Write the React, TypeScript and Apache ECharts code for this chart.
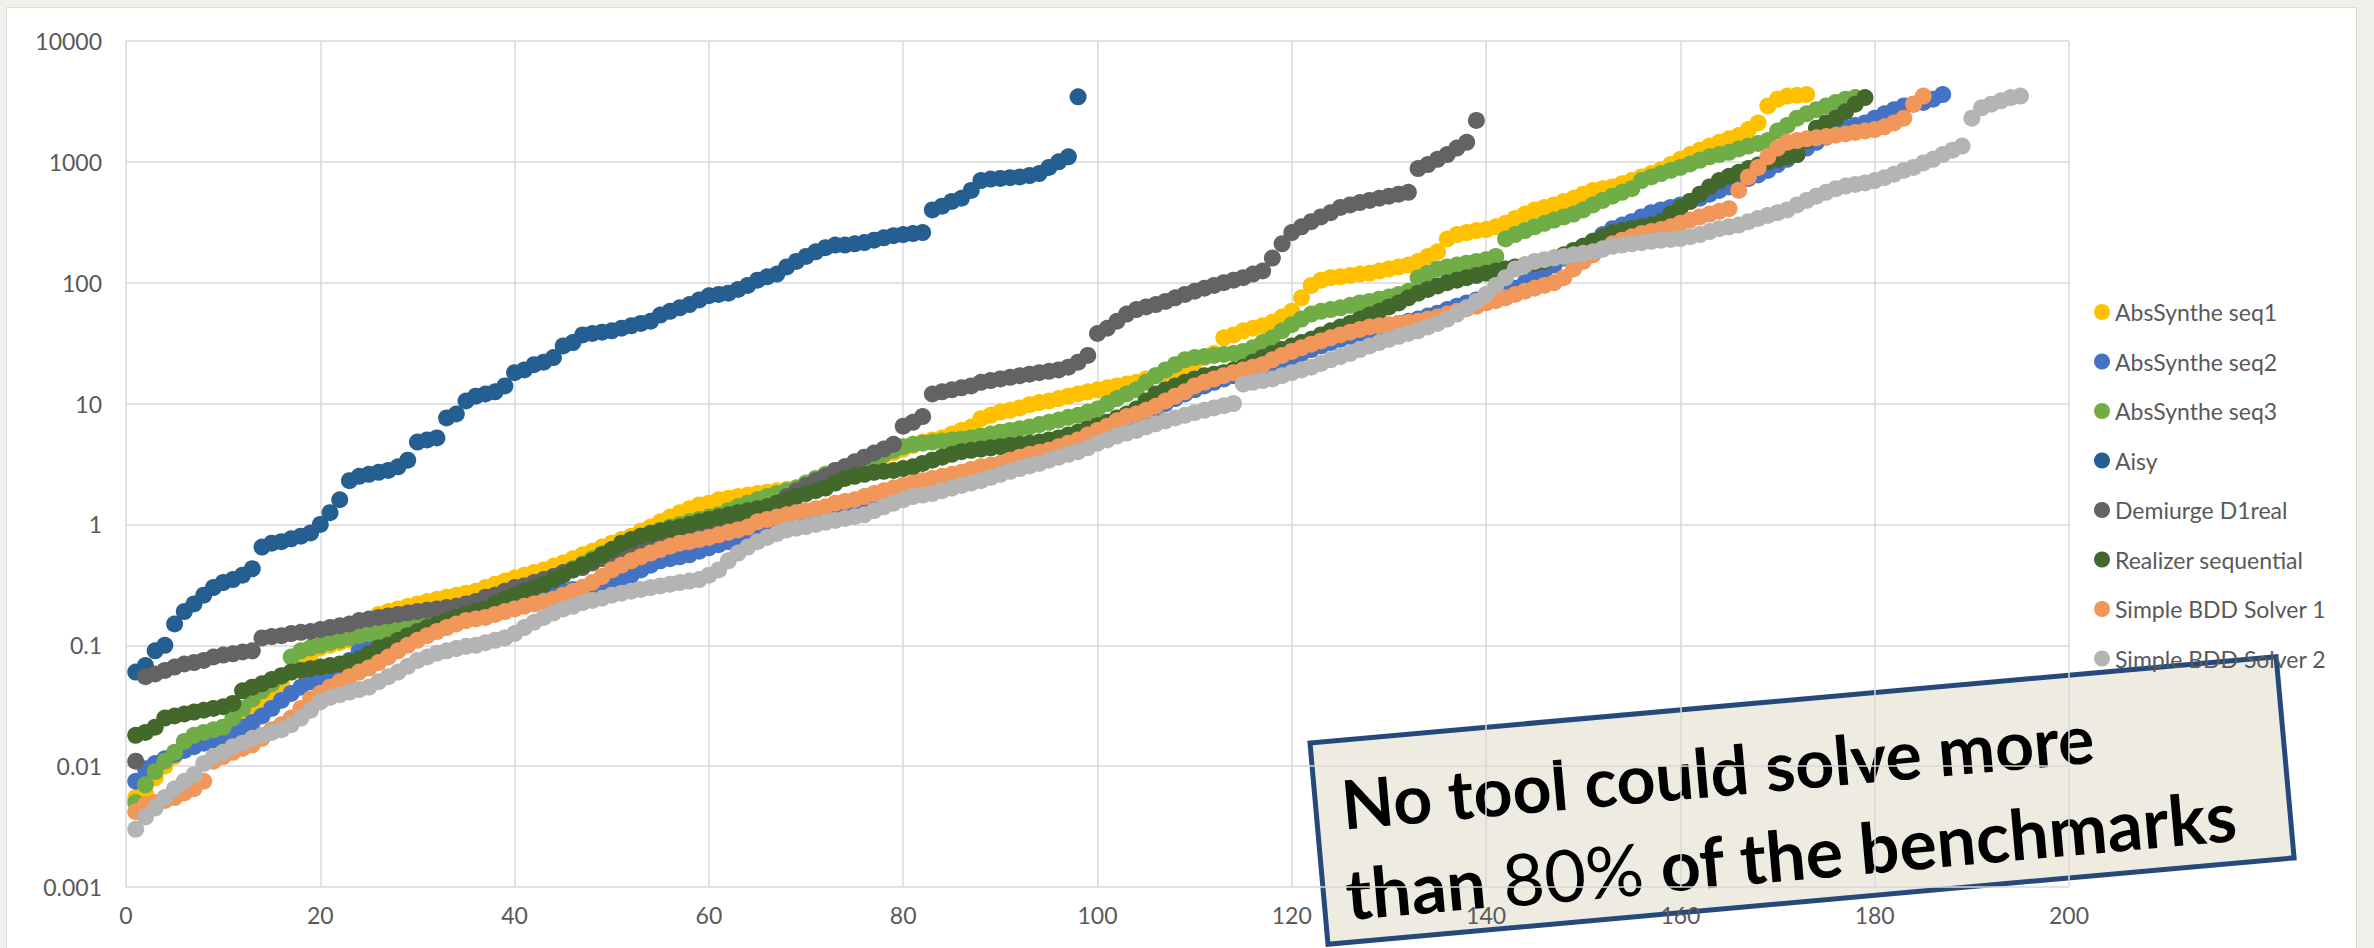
import React, { useEffect, useRef } from "react";
import * as echarts from "echarts";

const seriesNames = [
  "AbsSynthe seq1",
  "AbsSynthe seq2",
  "AbsSynthe seq3",
  "Aisy",
  "Demiurge D1real",
  "Realizer sequential",
  "Simple BDD Solver 1",
  "Simple BDD Solver 2",
];
const seriesColors = ["#FFC000", "#4472C4", "#70AD47", "#255E91", "#636363", "#43682B", "#F1975A", "#B4B4B4"];

const absSyntheSeq1 = [
  0.0055, 0.006, 0.008, 0.01, 0.012, 0.014, 0.016, 0.017, 0.019, 0.021,
  0.023, 0.026, 0.03, 0.034, 0.04, 0.048, 0.06, 0.075, 0.085, 0.095,
  0.1, 0.105, 0.11, 0.12, 0.16, 0.18, 0.19, 0.2, 0.21, 0.22,
  0.23, 0.24, 0.25, 0.26, 0.27, 0.28, 0.3, 0.32, 0.34, 0.36,
  0.38, 0.4, 0.42, 0.45, 0.48, 0.52, 0.56, 0.6, 0.65, 0.7,
  0.75, 0.8, 0.88, 0.95, 1.05, 1.15, 1.25, 1.35, 1.45, 1.5,
  1.6, 1.65, 1.7, 1.75, 1.8, 1.85, 1.9, 1.95, 2.0, 2.1,
  2.3, 2.5, 2.7, 2.9, 3.1, 3.3, 3.5, 3.7, 3.9, 4.2,
  4.5, 4.8, 5.0, 5.2, 5.6, 6.0, 6.4, 7.5, 8.0, 8.5,
  8.8, 9.2, 9.8, 10.2, 10.5, 11, 11.5, 12, 12.5, 13,
  13.5, 14, 14.5, 15, 16, 17, 18, 19, 20, 22,
  24, 26, 35, 37, 40, 42, 44, 47, 52, 58,
  75, 95, 105, 110, 112, 115, 118, 120, 125, 130,
  135, 140, 150, 165, 180, 230, 250, 260, 270, 275,
  290, 310, 340, 370, 400, 420, 440, 470, 500, 540,
  580, 600, 620, 660, 700, 750, 800, 860, 950, 1050,
  1150, 1250, 1350, 1450, 1550, 1650, 1850, 2100, 2900, 3300,
  3500, 3550, 3600,
];

const absSyntheSeq2 = [
  0.0075, 0.0095, 0.0105, 0.0115, 0.0125, 0.0135, 0.0145, 0.0155, 0.0165, 0.0175,
  0.019, 0.021, 0.023, 0.026, 0.03, 0.035, 0.04, 0.045, 0.05, 0.055,
  0.06, 0.068, 0.075, 0.09, 0.1, 0.105, 0.11, 0.12, 0.13, 0.14,
  0.15, 0.155, 0.16, 0.17, 0.18, 0.19, 0.2, 0.21, 0.22, 0.23,
  0.24, 0.25, 0.26, 0.27, 0.28, 0.29, 0.3, 0.31, 0.32, 0.34,
  0.36, 0.38, 0.42, 0.46, 0.5, 0.52, 0.54, 0.56, 0.6, 0.64,
  0.68, 0.72, 0.74, 0.76, 0.8, 0.88, 0.95, 1.0, 1.05, 1.1,
  1.2, 1.25, 1.3, 1.4, 1.5, 1.6, 1.7, 1.8, 1.9, 1.95,
  2.0, 2.1, 2.2, 2.3, 2.4, 2.5, 2.6, 2.7, 2.8, 3.0,
  3.2, 3.4, 3.6, 3.8, 4.0, 4.3, 4.6, 5.0, 5.3, 5.6,
  6.0, 6.5, 7.0, 7.6, 8.2, 9.0, 10, 11, 12, 13,
  14, 15, 16, 17, 18, 19, 20, 21, 22, 24,
  26, 28, 30, 32, 34, 36, 38, 40, 42, 44,
  46, 48, 50, 53, 56, 60, 64, 68, 72, 76,
  80, 85, 90, 100, 110, 125, 140, 160, 180, 200,
  220, 250, 280, 300, 320, 350, 380, 400, 420, 440,
  470, 500, 540, 580, 620, 680, 730, 780, 850, 950,
  1050, 1150, 1300, 1450, 1600, 1750, 1900, 2000, 2100, 2300,
  2500, 2700, 2900, 3000, 3100, 3300, 3600,
];

const absSyntheSeq3 = [
  0.005, 0.007, 0.009, 0.011, 0.013, 0.016, 0.018, 0.019, 0.02, 0.021,
  0.025, 0.03, 0.036, 0.042, 0.048, 0.055, 0.08, 0.09, 0.095, 0.1,
  0.105, 0.11, 0.115, 0.12, 0.125, 0.13, 0.135, 0.14, 0.145, 0.15,
  0.16, 0.17, 0.18, 0.19, 0.2, 0.22, 0.24, 0.26, 0.28, 0.3,
  0.31, 0.33, 0.35, 0.37, 0.4, 0.43, 0.47, 0.52, 0.57, 0.62,
  0.68, 0.74, 0.8, 0.85, 0.9, 0.95, 1.0, 1.05, 1.1, 1.15,
  1.2, 1.3, 1.4, 1.5, 1.6, 1.7, 1.8, 1.9, 2.0, 2.2,
  2.4, 2.6, 2.8, 3.0, 3.1, 3.2, 3.5, 3.8, 4.1, 4.4,
  4.6, 4.7, 4.8, 4.9, 5.0, 5.1, 5.2, 5.4, 5.6, 5.8,
  6.0, 6.2, 6.4, 6.7, 7.0, 7.3, 7.7, 8.0, 8.5, 9.0,
  10, 11, 12, 13, 15, 17, 19, 21, 23, 24,
  24.5, 25, 25.5, 26, 27, 29, 32, 35, 40, 45,
  50, 55, 58, 60, 62, 65, 68, 70, 73, 76,
  80, 85, 110, 120, 130, 135, 140, 145, 150, 155,
  165, 230, 250, 270, 290, 310, 330, 350, 370, 400,
  440, 480, 520, 560, 600, 700, 750, 800, 850, 900,
  960, 1030, 1100, 1150, 1200, 1280, 1350, 1420, 1500, 1800,
  2000, 2300, 2500, 2700, 2900, 3100, 3300, 3400,
];

const aisy = [
  0.06, 0.068, 0.09, 0.1, 0.15, 0.19, 0.22, 0.26, 0.3, 0.33,
  0.35, 0.38, 0.43, 0.65, 0.7, 0.72, 0.76, 0.8, 0.85, 1.0,
  1.25, 1.6, 2.3, 2.5, 2.6, 2.7, 2.8, 3.0, 3.4, 4.8,
  5.0, 5.2, 7.6, 8.2, 10.5, 11.5, 12, 12.5, 14, 18,
  19, 21, 22, 24, 30, 32, 37, 38, 39, 40,
  42, 44, 46, 48, 54, 58, 62, 66, 72, 78,
  80, 82, 88, 95, 105, 112, 118, 135, 150, 165,
  180, 195, 205, 205, 210, 215, 225, 235, 245, 250,
  255, 260, 400, 430, 470, 500, 580, 700, 720, 730,
  740, 750, 770, 800, 900, 1000, 1100, 3450,
];

const demiurgeD1real = [
  0.011, 0.055, 0.058, 0.062, 0.066, 0.07, 0.072, 0.075, 0.08, 0.083,
  0.085, 0.088, 0.09, 0.115, 0.118, 0.12, 0.125, 0.128, 0.13, 0.135,
  0.14, 0.145, 0.15, 0.16, 0.165, 0.17, 0.175, 0.18, 0.185, 0.19,
  0.195, 0.2, 0.205, 0.21, 0.22, 0.23, 0.25, 0.26, 0.28, 0.3,
  0.31, 0.33, 0.35, 0.37, 0.4, 0.42, 0.44, 0.48, 0.52, 0.56,
  0.62, 0.68, 0.72, 0.76, 0.8, 0.85, 0.9, 0.95, 1.0, 1.05,
  1.1, 1.15, 1.2, 1.25, 1.3, 1.4, 1.5, 1.7, 1.9, 2.1,
  2.3, 2.5, 2.8, 3.0, 3.3, 3.6, 3.9, 4.2, 4.6, 6.5,
  7.0, 7.8, 12, 12.5, 13, 13.5, 14, 15, 15.5, 16,
  16.5, 17, 17.5, 18, 18.5, 19, 20, 22, 25, 38,
  42, 48, 55, 60, 63, 66, 70, 75, 80, 85,
  90, 95, 100, 105, 110, 118, 125, 160, 210, 260,
  290, 320, 350, 380, 420, 440, 460, 480, 500, 520,
  540, 560, 880, 950, 1050, 1150, 1300, 1450, 2200,
];

const realizerSequential = [
  0.018, 0.019, 0.021, 0.025, 0.026, 0.027, 0.028, 0.029, 0.03, 0.031,
  0.033, 0.042, 0.045, 0.048, 0.052, 0.056, 0.06, 0.062, 0.064, 0.066,
  0.068, 0.07, 0.073, 0.077, 0.085, 0.095, 0.1, 0.11, 0.12, 0.13,
  0.14, 0.15, 0.16, 0.17, 0.18, 0.19, 0.2, 0.22, 0.24, 0.26,
  0.28, 0.3, 0.32, 0.35, 0.38, 0.42, 0.46, 0.5, 0.56, 0.62,
  0.7, 0.75, 0.8, 0.84, 0.88, 0.92, 0.95, 1.0, 1.05, 1.1,
  1.15, 1.2, 1.25, 1.3, 1.35, 1.4, 1.5, 1.6, 1.7, 1.8,
  1.9, 2.0, 2.2, 2.4, 2.5, 2.6, 2.7, 2.75, 2.8, 2.9,
  3.0, 3.2, 3.4, 3.6, 3.8, 4.0, 4.1, 4.2, 4.3, 4.4,
  4.5, 4.6, 4.7, 4.8, 5.0, 5.2, 5.5, 5.8, 6.2, 6.6,
  7.0, 7.6, 8.2, 9.0, 10.5, 12, 13, 14, 15, 16,
  17, 17.5, 18, 19, 20, 22, 24, 26, 28, 30,
  32, 34, 37, 40, 43, 46, 50, 54, 58, 63,
  68, 75, 82, 88, 94, 100, 105, 110, 115, 120,
  125, 130, 135, 140, 145, 150, 160, 170, 185, 200,
  220, 240, 260, 270, 280, 290, 300, 320, 370, 420,
  470, 540, 620, 700, 760, 820, 880, 940, 1000, 1050,
  1100, 1150, 1500, 1900, 2100, 2300, 2600, 3000, 3400,
];

const simpleBddSolver1 = [
  0.0042, 0.0048, 0.005, 0.0052, 0.0055, 0.006, 0.0065, 0.0075, 0.011, 0.012,
  0.013, 0.014, 0.015, 0.017, 0.02, 0.022, 0.025, 0.03, 0.036, 0.04,
  0.045, 0.05, 0.055, 0.06, 0.065, 0.072, 0.08, 0.09, 0.1, 0.11,
  0.12, 0.13, 0.14, 0.15, 0.16, 0.165, 0.17, 0.18, 0.19, 0.2,
  0.21, 0.22, 0.23, 0.24, 0.26, 0.28, 0.3, 0.33, 0.37, 0.42,
  0.46, 0.5, 0.54, 0.58, 0.62, 0.66, 0.7, 0.72, 0.75, 0.78,
  0.82, 0.86, 0.9, 0.95, 1.05, 1.1, 1.15, 1.2, 1.25, 1.3,
  1.35, 1.4, 1.5, 1.55, 1.6, 1.7, 1.8, 1.9, 2.0, 2.1,
  2.2, 2.3, 2.4, 2.5, 2.6, 2.7, 2.85, 3.0, 3.1, 3.2,
  3.4, 3.6, 3.8, 3.95, 4.1, 4.4, 4.7, 5.0, 5.5, 6.0,
  6.5, 7.2, 7.8, 8.2, 8.8, 9.5, 10.5, 11.5, 12.5, 14,
  15, 16, 17, 18, 19, 20, 21, 23, 25, 27,
  29, 31, 33, 35, 37, 39, 41, 43, 44, 45,
  46, 47, 48, 50, 52, 55, 58, 61, 64, 68,
  71, 75, 80, 85, 90, 95, 100, 110, 130, 150,
  170, 190, 210, 225, 240, 255, 265, 275, 290, 310,
  330, 350, 370, 390, 410, 580, 750, 900, 1100, 1300,
  1450, 1500, 1550, 1580, 1620, 1660, 1700, 1750, 1800, 1850,
  1950, 2100, 2300, 3000, 3500,
];

const simpleBddSolver2 = [
  0.003, 0.0038, 0.0045, 0.0055, 0.0065, 0.0075, 0.0085, 0.0105, 0.012, 0.013,
  0.0145, 0.0155, 0.017, 0.018, 0.019, 0.02, 0.022, 0.025, 0.029, 0.034,
  0.037, 0.039, 0.041, 0.043, 0.045, 0.05, 0.055, 0.06, 0.067, 0.075,
  0.08, 0.086, 0.09, 0.094, 0.098, 0.1, 0.105, 0.11, 0.115, 0.125,
  0.14, 0.155, 0.17, 0.185, 0.2, 0.21, 0.225, 0.235, 0.245, 0.26,
  0.27, 0.28, 0.29, 0.3, 0.31, 0.32, 0.33, 0.34, 0.35, 0.38,
  0.42, 0.5, 0.58, 0.65, 0.72, 0.78, 0.84, 0.9, 0.93, 0.96,
  1.0, 1.04, 1.08, 1.12, 1.16, 1.2, 1.3, 1.4, 1.5, 1.6,
  1.7, 1.75, 1.8, 1.9, 2.0, 2.1, 2.2, 2.3, 2.45, 2.6,
  2.75, 2.9, 3.05, 3.2, 3.4, 3.6, 3.8, 4.0, 4.3, 4.7,
  5.0, 5.4, 5.7, 6.0, 6.4, 6.8, 7.2, 7.6, 8.0, 8.4,
  8.8, 9.2, 9.6, 10, 14.5, 15, 15.5, 16, 17, 18,
  19, 20, 21.5, 23, 24.5, 26, 28, 30, 32, 34,
  36, 38, 40, 43, 46, 50, 55, 62, 70, 80,
  95, 110, 130, 140, 150, 155, 160, 165, 170, 175,
  180, 190, 200, 205, 210, 215, 220, 225, 228, 232,
  240, 250, 265, 280, 290, 300, 320, 340, 360, 380,
  400, 440, 480, 520, 560, 600, 630, 650, 670, 700,
  740, 790, 850, 900, 980, 1050, 1150, 1250, 1350, 2300,
  2800, 3000, 3200, 3400, 3500,
];

const seriesValues = [
  absSyntheSeq1,
  absSyntheSeq2,
  absSyntheSeq3,
  aisy,
  demiurgeD1real,
  realizerSequential,
  simpleBddSolver1,
  simpleBddSolver2,
];

const yTickLabels = ["0.001", "0.01", "0.1", "1", "10", "100", "1000", "10000"];
const xMin = 0;
const xMax = 200;
const xInterval = 20;

const noteLine1 = "No tool could solve more";
const noteLine2a = "than ";
const noteLine2b = "80%";
const noteLine2c = " of the benchmarks";

export default function App() {
  const ref = useRef<HTMLDivElement>(null);

  useEffect(() => {
    if (!ref.current) return;
    const chart = echarts.init(ref.current, null, { renderer: "svg" });
    const font = "Lato, 'Noto Sans', sans-serif";
    const boldText1 = { fontFamily: font, fontWeight: "bold", fontSize: 68, fill: "#000", color: "#000" };
    const boldText2 = { fontFamily: font, fontWeight: "bold", fontSize: 70, fill: "#000", color: "#000" };
    const normalText2 = { fontFamily: font, fontWeight: "normal", fontSize: 72, fill: "#000", color: "#000" };

    chart.setOption({
      animation: false,
      backgroundColor: "transparent",
      grid: { left: 126, right: 305, top: 41, bottom: 61 },
      xAxis: {
        type: "value",
        min: xMin,
        max: xMax,
        interval: xInterval,
        axisLine: { show: false },
        axisTick: { show: false },
        splitLine: { show: true, lineStyle: { color: "#d9d9d9", width: 1.5 } },
        axisLabel: { color: "#595959", fontFamily: font, fontSize: 23, margin: 16 },
      },
      yAxis: {
        type: "log",
        logBase: 10,
        min: 0.001,
        max: 10000,
        splitNumber: 7,
        axisLine: { show: false },
        axisTick: { show: false },
        splitLine: { show: true, lineStyle: { color: "#d9d9d9", width: 1.5 } },
        axisLabel: {
          color: "#595959",
          fontFamily: font,
          fontSize: 23,
          margin: 24,
          formatter: (v: number) => yTickLabels[Math.round(Math.log10(v)) + 3] ?? "",
        },
      },
      legend: {
        orient: "vertical",
        left: 2089,
        top: 295,
        icon: "circle",
        itemWidth: 16,
        itemHeight: 16,
        itemGap: 25.5,
        selectedMode: false,
        textStyle: { fontFamily: font, fontSize: 23, color: "#595959", lineHeight: 24 },
        data: seriesNames,
      },
      series: seriesNames.map((name, k) => ({
        type: "scatter",
        name,
        symbol: "circle",
        symbolSize: 17,
        itemStyle: { color: seriesColors[k], opacity: 1 },
        emphasis: { disabled: true },
        data: seriesValues[k].map((v, i) => [i + 1, v]),
      })),
      graphic: [
        {
          type: "group",
          x: 1310,
          y: 743,
          rotation: 0.0889,
          z: 100,
          children: [
            {
              type: "rect",
              shape: { x: 0, y: 0, width: 970, height: 202 },
              style: { fill: "#EEECE1", stroke: "#24497A", lineWidth: 5 },
            },
            {
              type: "text",
              style: {
                text: noteLine1,
                x: 26,
                y: 63,
                ...boldText1,
                align: "left",
                verticalAlign: "middle",
                textAlign: "left",
                textVerticalAlign: "middle",
              },
            },
            {
              type: "text",
              style: {
                text: `{b|${noteLine2a}}{n|${noteLine2b}}{b|${noteLine2c}}`,
                x: 22,
                y: 153,
                align: "left",
                verticalAlign: "middle",
                textAlign: "left",
                textVerticalAlign: "middle",
                rich: { b: boldText2, n: normalText2 },
              },
            },
          ],
        },
      ],
    });
    return () => chart.dispose();
  }, []);

  return (
    <div style={{ position: "fixed", left: 0, top: 0, width: 2374, height: 948, background: "#EEF0EA", overflow: "hidden" }}>
      <div
        style={{
          position: "absolute",
          left: 6,
          top: 7,
          width: 2349,
          height: 950,
          background: "#ffffff",
          border: "1px solid #dcdcdc",
        }}
      />
      <div ref={ref} style={{ position: "absolute", left: 0, top: 0, width: 2374, height: 948 }} />
    </div>
  );
}
